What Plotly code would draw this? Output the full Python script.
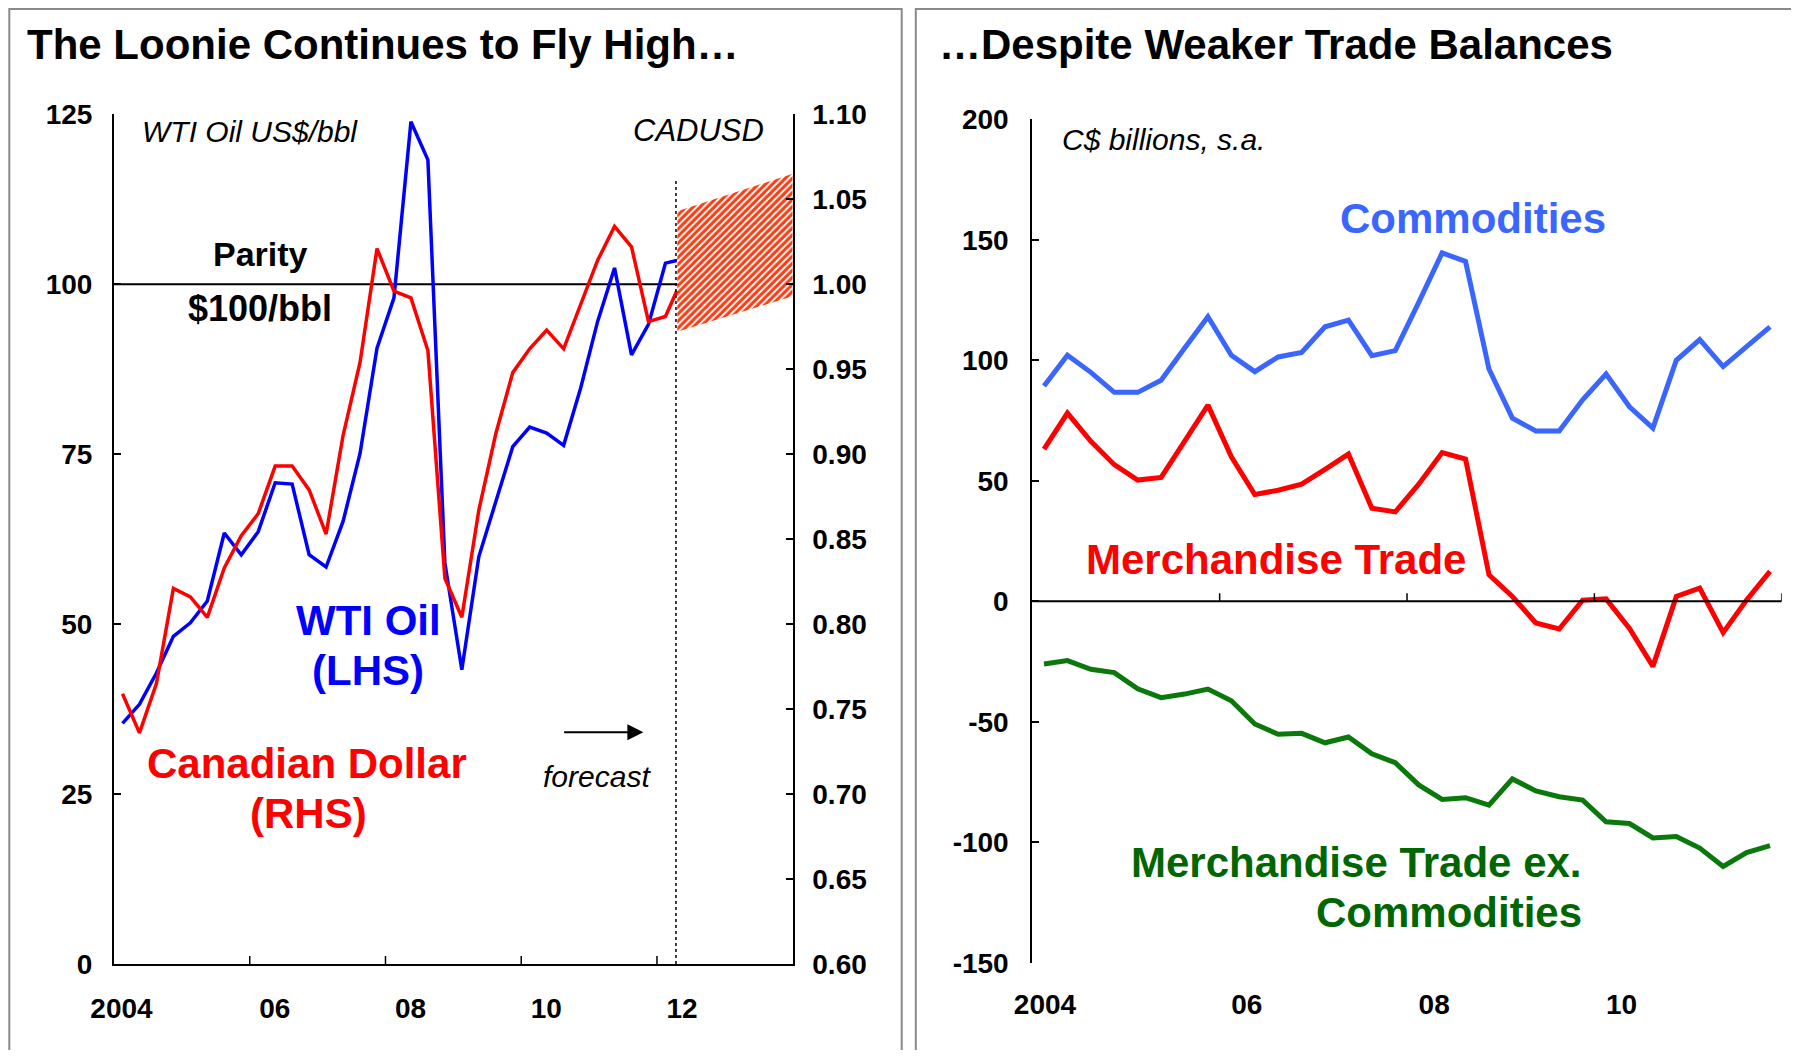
import plotly.graph_objects as go

# ---------------- data ----------------
# left panel: quarterly averages 2004Q1-2012Q1 plus April 2012
periods_left = [f"{y}Q{q}" for y in range(2004, 2012) for q in range(1, 5)] + ["2012Q1", "2012M04"]
wti_oil = [35.4, 38.2, 42.8, 48.2, 50.2, 53.4, 63.4, 60.2,
           63.6, 70.8, 70.6, 60.2, 58.4, 65.1, 75.1, 90.6,
           98.0, 123.9, 118.3, 59.0, 43.3, 59.9, 68.0, 76.1,
           79.0, 78.1, 76.3, 84.7, 94.5, 102.4, 89.6, 94.1,
           103.1, 103.5]
cad_usd = [0.759, 0.736, 0.765, 0.821, 0.816, 0.804, 0.833, 0.852,
           0.865, 0.893, 0.893, 0.879, 0.853, 0.911, 0.954, 1.021,
           0.996, 0.992, 0.961, 0.827, 0.804, 0.867, 0.912, 0.948,
           0.962, 0.973, 0.962, 0.988, 1.014, 1.034, 1.022, 0.978,
           0.981, 0.996]
band_x = [2012.3, 2014.0]
band_low = [0.972, 0.993]
band_high = [1.043, 1.065]
forecast_start = 2012.28
parity_oil = 100

# right panel: quarterly 2004Q1-2011Q4, C$ billions
periods_right = [f"{y}Q{q}" for y in range(2004, 2012) for q in range(1, 5)]
commodities = [89.3, 102.1, 95.0, 86.7, 86.7, 91.7, 105.0, 118.1,
               102.1, 95.3, 101.4, 103.3, 113.9, 116.7, 101.9, 104.0,
               124.0, 144.6, 141.0, 96.4, 76.0, 70.7, 70.7, 83.6,
               94.3, 80.7, 71.9, 100.0, 108.6, 97.4, 105.7, 113.9]
merch_trade = [63.1, 78.1, 66.4, 56.7, 50.3, 51.4, 66.4, 81.4,
               60.0, 44.3, 46.1, 48.6, 54.7, 61.1, 38.6, 37.1,
               48.6, 61.7, 59.0, 11.0, 2.0, -9.0, -11.5, 0.5,
               1.0, -11.3, -27.0, 2.0, 5.5, -13.0, 0.5, 12.4]
merch_ex_comm = [-26.0, -24.6, -28.2, -29.6, -36.3, -40.0, -38.5, -36.4,
                 -41.3, -50.9, -55.2, -54.8, -58.7, -56.3, -63.3, -67.0,
                 -76.2, -82.2, -81.5, -84.6, -73.7, -78.7, -81.1, -82.5,
                 -91.5, -92.2, -98.2, -97.6, -102.4, -110.0, -104.3, -101.4]

oil_ticks = [0, 25, 50, 75, 100, 125]
cad_ticks = [0.60, 0.65, 0.70, 0.75, 0.80, 0.85, 0.90, 0.95, 1.00, 1.05, 1.10]
trade_ticks = [-150, -100, -50, 0, 50, 100, 150, 200]
year_labels_left = ["2004", "06", "08", "10", "12"]
year_labels_right = ["2004", "06", "08", "10"]
tick_years_left = [2006, 2008, 2010, 2012]
tick_years_right = [2006, 2008, 2010, 2012]


def to_year(p):
    y = int(p[:4])
    if p[4] == "Q":
        return y + (int(p[5]) - 0.5) / 4
    return y + (int(p[5:]) - 0.5) / 12


x_left = [to_year(p) for p in periods_left]
x_right = [to_year(p) for p in periods_right]

# ---------------- page geometry (px -> paper) ----------------
W, H, OFF = 1791, 1042, 8


def px(x):
    return (x - OFF) / W


def py(y):
    return 1 - (y - OFF) / H


FONT = "Arial, 'Liberation Sans', sans-serif"
BLACK = "#000000"
tick_font = dict(family=FONT, size=28, color=BLACK, weight="bold")

fig = go.Figure()

# ---- left panel ----
fig.add_trace(go.Scatter(x=x_left, y=wti_oil, mode="lines", xaxis="x", yaxis="y",
                         line=dict(color="#0000FF", width=3.5), hoverinfo="skip"))
fig.add_trace(go.Scatter(x=[band_x[0], band_x[1], band_x[1], band_x[0]],
                         y=[band_low[0], band_low[1], band_high[1], band_high[0]],
                         mode="lines", fill="toself", xaxis="x", yaxis="y2",
                         line=dict(width=0, color="rgba(0,0,0,0)"),
                         fillcolor="white",
                         fillpattern=dict(shape="/", fgcolor="#FF3A10", bgcolor="white",
                                          size=5, solidity=0.6),
                         hoverinfo="skip"))
fig.add_trace(go.Scatter(x=x_left, y=cad_usd, mode="lines", xaxis="x", yaxis="y2",
                         line=dict(color="#FF0000", width=3.5), hoverinfo="skip"))

# ---- right panel ----
fig.add_trace(go.Scatter(x=x_right, y=commodities, mode="lines", xaxis="x3", yaxis="y3",
                         line=dict(color="#3A66FF", width=5), hoverinfo="skip"))
fig.add_trace(go.Scatter(x=x_right, y=merch_trade, mode="lines", xaxis="x3", yaxis="y3",
                         line=dict(color="#FF0000", width=5), hoverinfo="skip"))
fig.add_trace(go.Scatter(x=x_right, y=merch_ex_comm, mode="lines", xaxis="x3", yaxis="y3",
                         line=dict(color="#0A780A", width=5), hoverinfo="skip"))

left_dom_x = [px(114), px(792.7)]
left_dom_y = [py(964), py(114.3)]
right_dom_x = [px(1032.3), px(1781.7)]
right_dom_y = [py(962.8), py(119.3)]
left_range_x = [2004, 2014]
right_range_x = [2004, 2012]
trade_range = [-150, 200]

label_pos_left = [2004.11] + [2004 + 2 * i + 0.37 for i in range(1, len(year_labels_left))]
label_pos_right = [2004.135] + [2004 + 2 * i + 0.29 for i in range(1, len(year_labels_right))]

axis_common = dict(showgrid=False, zeroline=False, linecolor=BLACK, tickcolor=BLACK,
                   fixedrange=True, automargin=False)

fig.update_layout(
    template="none",
    width=W, height=H, autosize=False,
    margin=dict(l=0, r=0, t=0, b=0, pad=0),
    paper_bgcolor="white", plot_bgcolor="rgba(0,0,0,0)",
    showlegend=False,
    font=dict(family=FONT, color=BLACK),
    # left panel axes
    xaxis=dict(domain=left_dom_x, range=left_range_x, anchor="y",
               showline=True, linewidth=2, ticks="",
               tickvals=label_pos_left, ticktext=year_labels_left,
               tickfont=tick_font, ticklabelstandoff=18, **axis_common),
    yaxis=dict(domain=left_dom_y, range=[0, 125], anchor="x",
               showline=True, linewidth=2, ticks="inside", ticklen=7, tickwidth=1.5,
               tickvals=oil_ticks, tickfont=tick_font, ticklabelstandoff=14, **axis_common),
    yaxis2=dict(overlaying="y", range=[0.6, 1.1], anchor="x", side="right",
                showline=True, linewidth=2, ticks="inside", ticklen=7, tickwidth=1.5,
                tickvals=cad_ticks, tickformat=".2f", tickfont=tick_font,
                ticklabelstandoff=12, **axis_common),
    # right panel axes
    xaxis3=dict(domain=right_dom_x, range=right_range_x, anchor="y3",
                showline=False, ticks="", tickvals=label_pos_right, ticktext=year_labels_right,
                tickfont=tick_font, ticklabelstandoff=22, **axis_common),
    yaxis3=dict(domain=right_dom_y, range=trade_range, anchor="x3",
                showline=True, linewidth=2, ticks="inside", ticklen=7, tickwidth=1.5,
                tickvals=trade_ticks, ticktext=[str(v) for v in trade_ticks],
                tickfont=tick_font, ticklabelstandoff=16, **axis_common),
)

# ---- shapes ----
border = dict(color="#8A8A8A", width=2)
fig.add_shape(type="rect", xref="paper", yref="paper", x0=px(9.3), x1=px(901.7),
              y0=-0.05, y1=py(9), line=border, fillcolor="rgba(0,0,0,0)")
fig.add_shape(type="rect", xref="paper", yref="paper", x0=px(915.8), x1=px(1796.7),
              y0=-0.05, y1=py(9), line=border, fillcolor="rgba(0,0,0,0)")
fig.add_shape(type="line", xref="x", yref="y", x0=left_range_x[0], x1=left_range_x[1],
              y0=parity_oil, y1=parity_oil, line=dict(color=BLACK, width=2), layer="below")
fig.add_shape(type="line", xref="x", yref="y", x0=forecast_start, x1=forecast_start,
              y0=0, y1=115.2, line=dict(color=BLACK, width=1.5, dash="dot"))
# x-axis tick marks pointing up (left: on bottom axis, right: on zero line)
for yr in tick_years_left:
    fig.add_shape(type="line", xref="x", yref="y", x0=yr, x1=yr, ysizemode="pixel",
                  yanchor=0, y0=0, y1=8, line=dict(color=BLACK, width=1.5))
fig.add_shape(type="line", xref="x3", yref="y3", x0=right_range_x[0], x1=right_range_x[1],
              y0=0, y1=0, line=dict(color=BLACK, width=2))
for yr in tick_years_right:
    fig.add_shape(type="line", xref="x3", yref="y3", x0=yr, x1=yr, ysizemode="pixel",
                  yanchor=0, y0=0, y1=8, line=dict(color=BLACK, width=1.5))


# ---- annotations ----
def note(text, x, y, size, color=BLACK, xanchor="center", bold=True, italic=False):
    style = dict(family=FONT, size=size, color=color)
    if bold:
        style["weight"] = "bold"
    if italic:
        style["style"] = "italic"
    fig.add_annotation(text=text, xref="paper", yref="paper", x=px(x), y=py(y),
                       xanchor=xanchor, yanchor="middle", showarrow=False, font=style)


note("The Loonie Continues to Fly High…", 25, 45, 42, xanchor="left")
note("…Despite Weaker Trade Balances", 937, 45, 42, xanchor="left")

note("WTI Oil US$/bbl", 140, 131, 30, xanchor="left", bold=False, italic=True)
note("CADUSD", 766, 130, 31, xanchor="right", bold=False, italic=True)
note("Parity", 260, 254, 34)
note("$100/bbl", 260, 308, 36)
note("WTI Oil", 368, 620, 42, color="#0000FF")
note("(LHS)", 368, 670, 42, color="#0000FF")
note("Canadian Dollar", 307, 763, 42, color="#FF0000")
note("(RHS)", 308, 813, 42, color="#FF0000")
note("forecast", 597, 776, 30, bold=False, italic=True)

note("C$ billions, s.a.", 1060, 139, 30, xanchor="left", bold=False, italic=True)
note("Commodities", 1473, 219, 42, color="#3A66FF")
note("Merchandise Trade", 1276, 559, 42, color="#FF0000")
note("Merchandise Trade ex.", 1584, 862, 42, color="#006600", xanchor="right")
note("Commodities", 1584, 912, 42, color="#006600", xanchor="right")

# forecast arrow
fig.add_annotation(x=2011.8, y=34.1, ax=2010.61, ay=34.1, xref="x", yref="y",
                   axref="x", ayref="y", text="", showarrow=True,
                   arrowhead=2, arrowsize=1.6, arrowwidth=2, arrowcolor=BLACK)

fig.write_html("out.html")
